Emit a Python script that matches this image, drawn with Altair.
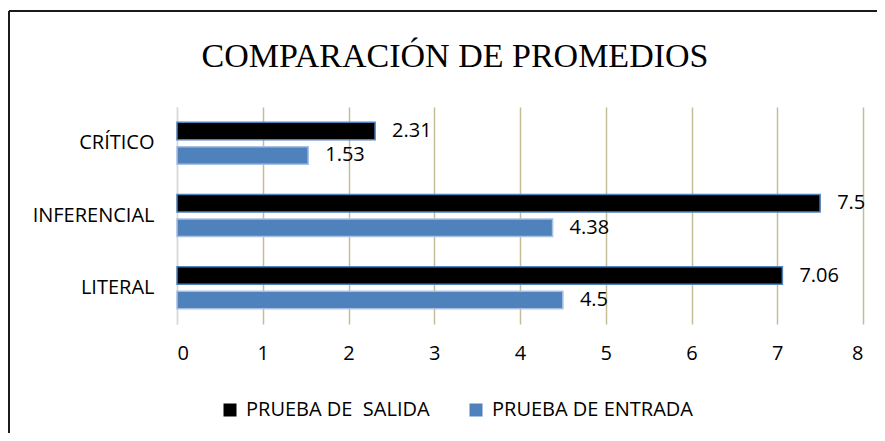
import altair as alt
import pandas as pd

titulo = "COMPARACIÓN DE PROMEDIOS"
categorias = ["CRÍTICO", "INFERENCIAL", "LITERAL"]
series = ["PRUEBA DE \u00a0SALIDA", "PRUEBA DE ENTRADA"]
salida = [2.31, 7.5, 7.06]
entrada = [1.53, 4.38, 4.5]
x_ticks = [0, 1, 2, 3, 4, 5, 6, 7, 8]
colores = ["#000000", "#4F81BD"]
bordes = ["#4F81BD", "#A9C1E0"]

rows = []
for c, s, e in zip(categorias, salida, entrada):
    rows.append({"categoria": c, "serie": series[0], "valor": s})
    rows.append({"categoria": c, "serie": series[1], "valor": e})
df = pd.DataFrame(rows)

FONT = "Open Sans"
FS = 20

y = alt.Y("categoria:N", sort=categorias, title=None,
          scale=alt.Scale(paddingInner=0.42, paddingOuter=0.21),
          axis=alt.Axis(labelFont=FONT, labelFontSize=FS, labelColor="#000000",
                        labelPadding=23, ticks=False, domainColor="#D9D9D9",
                        domainWidth=1.5, grid=False))
yoff = alt.YOffset("serie:N", sort=series,
                   scale=alt.Scale(paddingInner=0.286, paddingOuter=0))
x = alt.X("valor:Q", title=None, scale=alt.Scale(domain=[0, 8], nice=False),
          axis=alt.Axis(values=x_ticks, labelFont=FONT, labelFontSize=FS,
                        labelColor="#000000", labelPadding=19, ticks=False,
                        domain=False, format="d",
                        gridColor={"condition": {"test": "datum.value === 0", "value": "#D9D9D9"},
                                   "value": "#C4BD97"},
                        gridWidth=1.5))

base = alt.Chart(df)

bars = base.mark_bar(strokeWidth=1.5).encode(
    x=x, y=y, yOffset=yoff,
    color=alt.Color("serie:N", sort=series,
                    scale=alt.Scale(domain=series, range=colores),
                    legend=alt.Legend(orient="none", legendX=43, legendY=293,
                                      direction="horizontal", title=None,
                                      symbolType="square", symbolSize=169,
                                      symbolStrokeWidth=0, labelFont=FONT,
                                      labelFontSize=FS, labelColor="#000000",
                                      labelOffset=6, columnPadding=36, padding=0,
                                      labelLimit=0)),
    stroke=alt.Stroke("serie:N", scale=alt.Scale(domain=series, range=bordes), legend=None),
)

labels = base.mark_text(align="left", baseline="middle", dx=17, font=FONT,
                        fontSize=FS, color="#000000").encode(
    x=alt.X("valor:Q"), y=alt.Y("categoria:N", sort=categorias),
    yOffset=alt.YOffset("serie:N", sort=series),
    text=alt.Text("valor:Q"),
)

titulo_df = pd.DataFrame({"t": [titulo]})
titulo_mark = alt.Chart(titulo_df).mark_text(
    font="Liberation Serif", fontSize=34, color="#000000",
    align="center", baseline="alphabetic").encode(
    text="t:N", x=alt.value(278), y=alt.value(-40))

borde_df = pd.DataFrame({"k": [0]})
borde_top = alt.Chart(borde_df).mark_rule(color="#1a1a1a", strokeWidth=2).encode(
    x=alt.value(-168), x2=alt.value(720), y=alt.value(-96))
borde_left = alt.Chart(borde_df).mark_rule(color="#1a1a1a", strokeWidth=2).encode(
    x=alt.value(-168), y=alt.value(-96), y2=alt.value(340))

chart = alt.layer(bars, labels, titulo_mark, borde_top, borde_left).properties(
    width=686, height=217,
    autosize=alt.AutoSizeParams(type="none"),
    padding={"left": 169, "top": 99, "right": 14, "bottom": 109},
    background="white",
).configure_view(stroke=None)

chart.save("out.html", embed_options={"renderer": "svg", "actions": False})
